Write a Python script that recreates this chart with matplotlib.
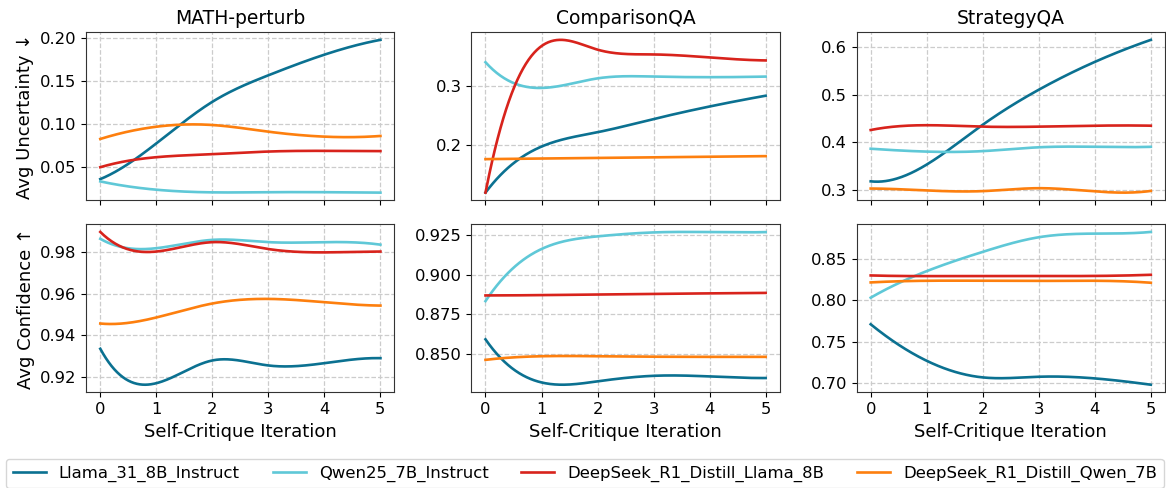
import numpy as np
import matplotlib
matplotlib.use("Agg")
import matplotlib.pyplot as plt

iterations = [0, 1, 2, 3, 4, 5]
models = ["Llama_31_8B_Instruct", "Qwen25_7B_Instruct",
          "DeepSeek_R1_Distill_Llama_8B", "DeepSeek_R1_Distill_Qwen_7B"]
colors = ["#0b7191", "#5fc8d7", "#d8231c", "#fd7f0e"]
datasets = ["MATH-perturb", "ComparisonQA", "StrategyQA"]

# avg uncertainty (top row), one list per model
math_unc = [
    [0.0353, 0.077, 0.1256, 0.1566, 0.1807, 0.198],
    [0.0326, 0.0229, 0.0198, 0.0200, 0.0200, 0.0195],
    [0.0492, 0.0609, 0.0644, 0.0675, 0.0683, 0.0680],
    [0.0822, 0.0965, 0.0985, 0.0907, 0.0849, 0.0857],
]
cqa_unc = [
    [0.121, 0.198, 0.222, 0.244, 0.265, 0.283],
    [0.339, 0.296, 0.312, 0.315, 0.314, 0.315],
    [0.121, 0.366, 0.360, 0.352, 0.347, 0.342],
    [0.177, 0.178, 0.179, 0.180, 0.181, 0.182],
]
sqa_unc = [
    [0.319, 0.354, 0.437, 0.510, 0.568, 0.614],
    [0.387, 0.381, 0.382, 0.390, 0.391, 0.391],
    [0.426, 0.436, 0.433, 0.433, 0.435, 0.435],
    [0.304, 0.300, 0.2986, 0.3047, 0.298, 0.299],
]

# avg confidence (bottom row)
math_conf = [
    [0.9336, 0.9171, 0.9280, 0.9256, 0.9267, 0.9291],
    [0.9863, 0.9818, 0.9858, 0.9847, 0.9847, 0.9835],
    [0.9896, 0.9802, 0.9847, 0.9814, 0.9798, 0.9802],
    [0.9457, 0.9486, 0.9553, 0.9575, 0.9559, 0.9543],
]
cqa_conf = [
    [0.8592, 0.8319, 0.8326, 0.8361, 0.8357, 0.8347],
    [0.8834, 0.9164, 0.9244, 0.9269, 0.9271, 0.9271],
    [0.8870, 0.8872, 0.8876, 0.8880, 0.8883, 0.8886],
    [0.8462, 0.8485, 0.8485, 0.8482, 0.8481, 0.8481],
]
sqa_conf = [
    [0.7708, 0.7268, 0.7068, 0.7076, 0.7056, 0.6980],
    [0.8028, 0.8348, 0.8580, 0.8756, 0.8800, 0.8820],
    [0.8296, 0.8288, 0.8290, 0.8289, 0.8290, 0.8304],
    [0.8212, 0.8232, 0.8232, 0.8230, 0.8232, 0.8208],
]

unc_rows = [math_unc, cqa_unc, sqa_unc]
conf_rows = [math_conf, cqa_conf, sqa_conf]


def spline(x, y, num=300):
    # not-a-knot cubic spline, just for drawing smooth lines
    x = np.asarray(x, float)
    y = np.asarray(y, float)
    n = len(x)
    m = n - 1
    A = np.zeros((4 * m, 4 * m))
    rhs = np.zeros(4 * m)
    r = 0
    for i in range(m):
        h = x[i + 1] - x[i]
        A[r, 4 * i] = 1
        rhs[r] = y[i]
        r += 1
        A[r, 4 * i:4 * i + 4] = [1, h, h ** 2, h ** 3]
        rhs[r] = y[i + 1]
        r += 1
    for i in range(m - 1):
        h = x[i + 1] - x[i]
        A[r, 4 * i:4 * i + 4] = [0, 1, 2 * h, 3 * h ** 2]
        A[r, 4 * (i + 1) + 1] = -1
        r += 1
        A[r, 4 * i:4 * i + 4] = [0, 0, 2, 6 * h]
        A[r, 4 * (i + 1) + 2] = -2
        r += 1
    A[r, 3] = 1
    A[r, 7] = -1
    r += 1
    A[r, 4 * (m - 2) + 3] = 1
    A[r, 4 * (m - 1) + 3] = -1
    coef = np.linalg.solve(A, rhs).reshape(m, 4)
    xs = np.linspace(x[0], x[-1], num)
    idx = np.clip(np.searchsorted(x, xs, side="right") - 1, 0, m - 1)
    t = xs - x[idx]
    c = coef[idx]
    return xs, c[:, 0] + c[:, 1] * t + c[:, 2] * t ** 2 + c[:, 3] * t ** 3


plt.rcParams["font.family"] = "DejaVu Sans"
fig, axes = plt.subplots(2, 3, figsize=(11.66, 4.88), dpi=100)
fig.subplots_adjust(left=0.074, right=0.999, top=0.934, bottom=0.196,
                    wspace=0.25, hspace=0.143)

for row, rows_data in enumerate([unc_rows, conf_rows]):
    for col in range(3):
        ax = axes[row, col]
        for k in range(4):
            xs, ys = spline(iterations, rows_data[col][k])
            ax.plot(xs, ys, color=colors[k], lw=1.9, label=models[k])
        ax.grid(True, ls="--", color="#cccccc", lw=0.9)
        ax.set_xticks(iterations)
        ax.tick_params(labelsize=11.8)
        for s in ax.spines.values():
            s.set_color("#333333")
        if row == 0:
            ax.set_title(datasets[col], fontsize=13.5)
            ax.tick_params(labelbottom=False)
        else:
            ax.set_xlabel("Self-Critique Iteration", fontsize=13)

axes[0, 0].set_ylabel("Avg Uncertainty \u2193", fontsize=13)
axes[1, 0].set_ylabel("Avg Confidence \u2191", fontsize=13)

handles, labels = axes[0, 0].get_legend_handles_labels()
fig.legend(handles, labels, loc="upper left", bbox_to_anchor=(6 / 1166, 1 - 459 / 488),
           ncol=4, fontsize=11.85, borderaxespad=0, frameon=True)

fig.savefig("out.png", dpi=100)
